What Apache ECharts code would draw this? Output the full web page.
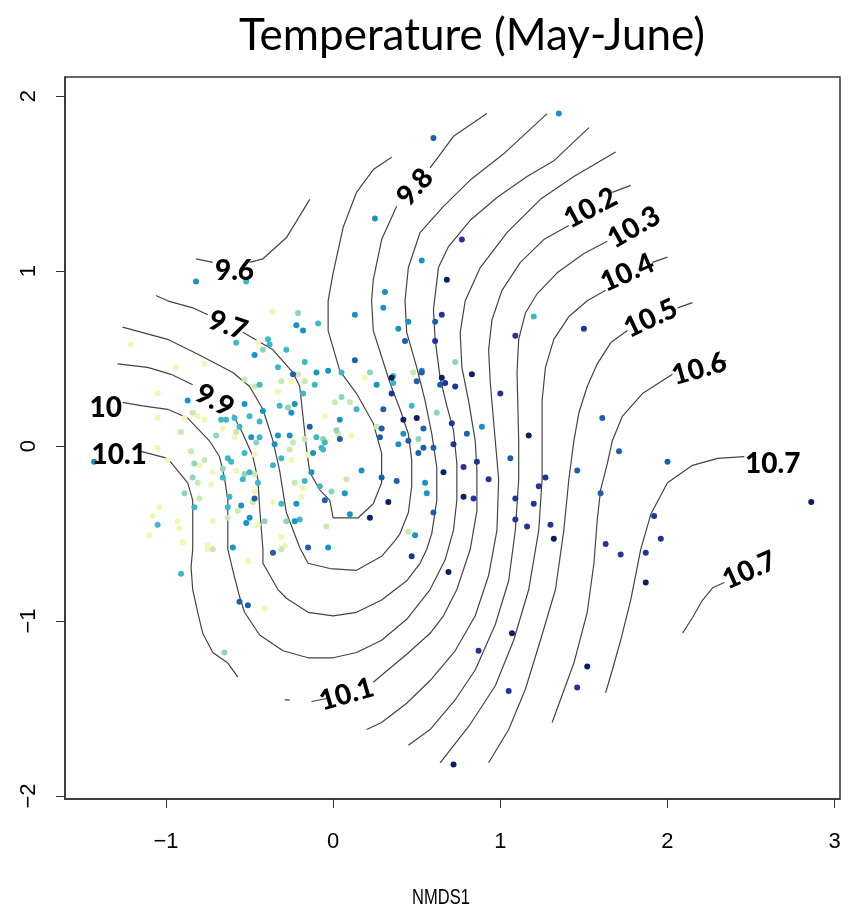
<!DOCTYPE html>
<html>
<head>
<meta charset="utf-8">
<script src="https://cdn.jsdelivr.net/npm/echarts@6/dist/echarts.min.js"></script>
<style>
  html, body { margin: 0; background: #fff; }
  #chart { width: 856px; height: 913px; }
</style>
</head>
<body>
<div id="chart"></div>
<script>
// axis ticks
const xTicks = [-1, 0, 1, 2, 3]
const yTicks = [-2, -1, 0, 1, 2]

// contour lines (NMDS1, NMDS2), each level split where the line breaks
const c96 = [
  [[-0.82, 1.07], [-0.72, 1.05]],
  [[-0.50, 1.05], [-0.42, 1.07], [-0.28, 1.19], [-0.14, 1.41]]
]
const c97 = [
  [[-1.06, 0.86], [-0.99, 0.83], [-0.84, 0.79], [-0.75, 0.75]],
  [[-0.54, 0.65], [-0.36, 0.55], [-0.24, 0.42], [-0.20, 0.34], [-0.16, -0.01], [-0.14, -0.15], [-0.08, -0.25],
   [-0.02, -0.31], [0.00, -0.41], [0.15, -0.41], [0.24, -0.33], [0.29, -0.21], [0.29, -0.04], [0.24, 0.13],
   [0.14, 0.30], [0.04, 0.43], [-0.03, 0.66], [-0.03, 0.83], [0.00, 0.99], [0.06, 1.25], [0.14, 1.45],
   [0.24, 1.58], [0.35, 1.65]]
]
const c98 = [
  [[-1.26, 0.68], [-0.99, 0.61], [-0.80, 0.52], [-0.60, 0.42], [-0.50, 0.34], [-0.42, 0.21], [-0.36, 0.03],
   [-0.32, -0.14], [-0.28, -0.38], [-0.20, -0.58], [-0.15, -0.67], [-0.02, -0.70], [0.14, -0.71], [0.29, -0.63],
   [0.37, -0.54], [0.40, -0.50], [0.45, -0.38], [0.47, -0.23], [0.47, -0.08], [0.45, 0.07], [0.40, 0.21],
   [0.34, 0.36], [0.29, 0.51], [0.24, 0.66], [0.23, 0.83], [0.24, 0.95], [0.29, 1.18], [0.38, 1.37]],
  [[0.58, 1.59], [0.72, 1.77], [0.92, 1.90]]
]
const c99 = [
  [[-1.29, 0.47], [-1.11, 0.45], [-0.97, 0.41], [-0.84, 0.35]],
  [[-0.60, 0.18], [-0.54, 0.07], [-0.48, -0.06], [-0.45, -0.19], [-0.44, -0.35], [-0.42, -0.59], [-0.42, -0.67],
   [-0.33, -0.82], [-0.28, -0.87], [-0.15, -0.95], [0.00, -0.97], [0.14, -0.95], [0.29, -0.88], [0.44, -0.77],
   [0.52, -0.67], [0.56, -0.59], [0.59, -0.50], [0.62, -0.31], [0.62, -0.12], [0.59, 0.07], [0.55, 0.26],
   [0.50, 0.45], [0.44, 0.65], [0.43, 0.83], [0.45, 1.02], [0.52, 1.22], [0.66, 1.37], [0.82, 1.52],
   [1.02, 1.67], [1.28, 1.90]]
]
const c100 = [
  [[-1.26, 0.25], [-1.14, 0.23], [-0.99, 0.21], [-0.87, 0.16], [-0.74, 0.03], [-0.68, -0.06], [-0.65, -0.18],
   [-0.63, -0.31], [-0.63, -0.59], [-0.60, -0.71], [-0.56, -0.86], [-0.53, -0.95], [-0.44, -1.08], [-0.30, -1.17],
   [-0.15, -1.21], [0.00, -1.21], [0.14, -1.18], [0.29, -1.11], [0.44, -0.99], [0.58, -0.82], [0.67, -0.65],
   [0.72, -0.48], [0.74, -0.31], [0.74, -0.10], [0.72, 0.09], [0.68, 0.23], [0.64, 0.39], [0.61, 0.61],
   [0.60, 0.78], [0.63, 1.02], [0.69, 1.14], [0.82, 1.29], [0.98, 1.42], [1.16, 1.54], [1.32, 1.63], [1.53, 1.82]]
]
const c101 = [
  [[-1.15, -0.03], [-0.99, -0.07], [-0.87, -0.21], [-0.84, -0.31], [-0.84, -0.59], [-0.85, -0.69], [-0.84, -0.82],
   [-0.81, -0.95], [-0.78, -1.07], [-0.72, -1.18], [-0.63, -1.24], [-0.57, -1.32]],
  [[-0.29, -1.45], [-0.26, -1.45]],
  [[-0.13, -1.46], [-0.02, -1.44]],
  [[0.24, -1.35], [0.44, -1.19], [0.58, -1.07], [0.66, -0.97], [0.74, -0.82], [0.82, -0.59], [0.86, -0.37],
   [0.86, -0.14], [0.85, 0.03], [0.81, 0.26], [0.77, 0.45], [0.76, 0.65], [0.79, 0.83], [0.88, 1.02],
   [1.04, 1.22], [1.24, 1.41], [1.44, 1.54], [1.69, 1.68]]
]
const c102 = [
  [[0.20, -1.62], [0.29, -1.58], [0.44, -1.47], [0.58, -1.34], [0.73, -1.17], [0.85, -0.97], [0.93, -0.74],
   [0.98, -0.48], [0.99, -0.19], [0.97, 0.03], [0.94, 0.36], [0.93, 0.55], [0.95, 0.72], [1.01, 0.89],
   [1.12, 1.05], [1.26, 1.18], [1.41, 1.26]],
  [[1.67, 1.45], [1.78, 1.49]]
]
const c103 = [
  [[0.45, -1.71], [0.58, -1.62], [0.73, -1.45], [0.85, -1.28], [0.97, -1.02], [1.05, -0.77], [1.09, -0.48],
   [1.11, -0.19], [1.11, 0.03], [1.10, 0.42], [1.11, 0.61], [1.15, 0.76], [1.22, 0.87], [1.34, 0.99],
   [1.50, 1.10], [1.64, 1.17]]
]
const c104 = [
  [[0.64, -1.81], [0.82, -1.59], [0.97, -1.37], [1.08, -1.11], [1.17, -0.82], [1.23, -0.48], [1.25, -0.19],
   [1.25, 0.03], [1.25, 0.26], [1.27, 0.45], [1.32, 0.61], [1.41, 0.74], [1.52, 0.83], [1.63, 0.89]],
  [[1.91, 1.05], [2.00, 1.08]]
]
const c105 = [
  [[0.93, -1.81], [1.05, -1.62], [1.15, -1.39], [1.24, -1.11], [1.33, -0.82], [1.38, -0.48], [1.41, -0.19],
   [1.44, 0.03], [1.47, 0.19], [1.52, 0.34], [1.58, 0.47], [1.66, 0.59], [1.76, 0.66]],
  [[2.06, 0.79], [2.15, 0.82]]
]
const c106 = [
  [[1.31, -1.58], [1.44, -1.24], [1.52, -0.95], [1.56, -0.67], [1.58, -0.42], [1.60, -0.25], [1.64, -0.10],
   [1.67, 0.03], [1.73, 0.17], [1.85, 0.30], [2.03, 0.41]],
  [[2.27, 0.47], [2.35, 0.49]]
]
const c107 = [
  [[1.63, -1.41], [1.67, -1.28], [1.72, -1.11], [1.78, -0.88], [1.84, -0.59], [1.90, -0.39], [2.00, -0.21],
   [2.15, -0.11], [2.30, -0.07], [2.46, -0.06]],
  [[2.09, -1.07], [2.15, -0.98], [2.21, -0.88], [2.27, -0.81], [2.34, -0.78]]
]
const contours = [c96, c97, c98, c99, c100, c101, c102, c103, c104, c105, c106, c107]

// contour labels
const labelText = ['9.6', '9.7', '9.8', '9.9', '10', '10.1', '10.1', '10.2', '10.3', '10.4', '10.5', '10.6', '10.7', '10.7']
const labelX = [-0.59, -0.63, 0.49, -0.71, -1.36, -1.28, 0.08, 1.54, 1.80, 1.76, 1.90, 2.19, 2.63, 2.49]
const labelY = [1.00, 0.69, 1.48, 0.26, 0.22, -0.05, -1.42, 1.36, 1.25, 0.99, 0.73, 0.44, -0.10, -0.71]
const labelRot = [0, -19, 48, -29, 0, 0, 16, 28, 30, 24, 25, 16, 0, 24]

// sites, grouped by colour class (pale yellow -> navy)
const ptsK0 = [
  [0.19, 0.39], [0.11, 0.06], [-0.05, 0.17], [-0.04, 0.03], [-0.90, -0.55], [-0.75, -0.57], [-0.75, -0.59],
  [-0.51, -0.66], [-0.29, -0.57], [-0.41, -0.93], [-0.36, 0.77], [-1.21, 0.58], [-0.45, 0.59], [-0.77, 0.47],
  [-0.94, 0.45], [-0.25, 0.37], [-0.33, 0.31], [-1.05, 0.30], [-0.81, 0.17], [-0.77, 0.15], [-0.89, 0.16],
  [-1.05, 0.16], [-0.66, 0.10], [-0.59, 0.05], [-1.05, -0.01], [-0.47, -0.05], [-0.99, -0.08], [-0.80, -0.11],
  [-0.25, -0.08], [-0.15, -0.05], [-0.58, -0.14], [-0.72, -0.15], [-0.73, -0.22], [-0.47, -0.26], [-0.19, -0.29],
  [-0.36, -0.32], [-1.04, -0.35], [-1.08, -0.40], [-0.93, -0.43], [-0.92, -0.47], [-0.72, -0.43], [-0.45, -0.45],
  [-0.18, -0.24], [-1.10, -0.51], [-0.31, -0.52]
]
const ptsK1 = [
  [0.48, 0.42], [0.01, 0.25], [0.10, 0.25], [0.26, 0.11], [0.03, 0.07], [0.08, -0.19], [-0.04, -0.46],
  [0.45, -0.49], [-0.72, -0.59], [-0.31, -0.59], [-0.21, 0.41], [-0.53, 0.38], [-0.47, 0.34], [-0.31, 0.37],
  [-0.17, 0.37], [-0.84, 0.19], [-0.91, 0.08], [-0.58, 0.08], [-0.24, 0.02], [-0.17, 0.04], [-0.85, -0.03],
  [-0.26, -0.02], [-0.77, -0.08], [-0.47, -0.16], [-0.81, -0.21], [-0.23, -0.21], [-0.48, -0.32], [-0.80, -0.30],
  [-0.63, -0.41], [-0.57, -0.37]
]
const ptsK2 = [
  [0.73, 0.48], [0.22, 0.42], [0.05, 0.28], [0.62, 0.19], [0.02, 0.09], [-0.06, 0.04], [0.51, 0.04],
  [-0.01, -0.26], [-0.65, -1.18], [-0.21, 0.76], [-0.42, 0.55], [-0.27, 0.22], [-0.70, 0.06], [-0.46, 0.02],
  [-0.83, -0.10], [-0.66, -0.13], [-0.53, -0.16], [-0.84, -0.18], [-0.89, -0.27], [-0.41, -0.43], [-0.28, -0.43]
]
const ptsK3 = [
  [-0.52, 0.94], [1.20, 0.74], [0.05, 0.42], [0.36, 0.40], [0.36, 0.36], [0.14, 0.21], [0.47, 0.23],
  [-0.05, 0.02], [-0.07, -0.01], [-0.06, -0.02], [-0.91, -0.73], [-0.09, 0.70], [-0.58, 0.59], [-0.39, 0.61],
  [-0.38, 0.58], [-0.28, 0.55], [-0.17, 0.48], [-0.33, 0.45], [-0.44, 0.35], [-0.11, 0.35], [-0.18, 0.30],
  [-0.32, 0.23], [-0.67, 0.15], [-0.64, 0.15], [-0.59, 0.16], [-0.50, 0.17], [-0.44, 0.14], [-0.56, 0.11],
  [-0.44, 0.05], [-0.10, 0.05], [-0.53, -0.04], [-0.63, -0.07], [-0.61, -0.09], [-0.36, -0.11], [-0.31, -0.07],
  [-0.54, -0.19], [-0.50, -0.15], [-0.45, -0.21], [-0.17, -0.20], [-0.08, -0.23], [-0.66, -0.18], [-0.62, -0.29],
  [-0.31, -0.33], [-0.63, -0.35], [-1.05, -0.45], [-0.83, -0.35], [-0.20, -0.42]
]
const ptsK4 = [
  [-0.82, 0.94], [1.35, 1.90], [0.25, 1.30], [0.53, 1.06], [0.31, 0.88], [0.13, 0.75], [0.30, 0.79],
  [0.45, 0.71], [0.39, 0.67], [-0.03, 0.43], [0.26, 0.35], [0.53, 0.43], [0.04, 0.15], [0.89, 0.11],
  [0.42, 0.07], [0.39, 0.01], [0.17, -0.14], [0.55, -0.21], [0.07, -0.27], [0.56, -0.27], [0.10, -0.39],
  [0.49, -0.51], [-0.03, -0.58], [-0.60, -0.58], [-0.22, 0.69], [-0.18, 0.66], [-0.47, 0.52], [-0.10, 0.42],
  [-0.87, 0.26], [-0.53, 0.24], [-0.23, 0.24], [-0.25, 0.19], [-0.42, 0.20], [-0.49, 0.05], [-0.33, 0.06],
  [-0.26, 0.06], [-0.35, 0.01], [-0.12, -0.04], [-1.43, -0.09], [-0.13, -0.15], [-0.22, -0.33], [-0.55, -0.34],
  [-0.50, -0.41], [-0.52, -0.44], [-0.23, -0.43]
]
const ptsK5 = [
  [0.60, 1.76], [0.61, 0.71], [0.43, 0.60], [0.13, 0.49], [0.53, 0.42], [0.50, 0.37], [0.64, 0.35],
  [0.30, 0.21], [0.29, 0.10], [0.54, 0.10], [0.04, 0.04], [0.28, 0.05], [0.45, 0.03], [0.54, -0.01],
  [0.60, -0.01], [0.51, -0.04], [0.80, 0.07], [1.06, -0.07], [0.29, -0.18], [0.38, -0.20], [-0.05, -0.31],
  [1.46, -0.14], [0.60, -0.38], [1.61, 0.16], [1.71, -0.03], [2.00, -0.09], [1.60, -0.27], [-0.36, -0.61],
  [-0.15, -0.58], [-0.56, -0.89], [-0.51, -0.91], [-0.24, 0.41], [-0.14, 0.11], [-0.47, -0.30]
]
const ptsK6 = [
  [0.77, 1.18], [0.65, 0.75], [0.61, 0.60], [1.09, 0.63], [1.50, 0.67], [0.67, 0.36], [0.73, 0.34],
  [0.35, 0.30], [1.00, 0.30], [0.71, 0.13], [0.72, 0.01], [0.86, -0.09], [0.78, -0.12], [0.93, -0.19],
  [0.84, -0.30], [1.27, -0.18], [1.23, -0.23], [1.09, -0.30], [1.20, -0.33], [1.09, -0.42], [1.16, -0.46],
  [1.30, -0.45], [1.92, -0.40], [1.96, -0.53], [1.63, -0.56], [1.72, -0.62], [1.87, -0.61], [0.47, -0.63],
  [0.87, -1.17], [1.05, -1.40], [1.46, -1.38]
]
const ptsK7 = [
  [0.68, 0.95], [0.35, 0.39], [0.65, 0.39], [0.83, 0.41], [0.42, 0.15], [0.50, 0.16], [1.17, 0.06],
  [0.66, -0.15], [0.33, -0.32], [0.78, -0.29], [0.22, -0.41], [1.32, -0.53], [2.86, -0.32], [1.87, -0.78],
  [0.69, -0.72], [1.07, -1.07], [0.72, -1.82], [1.52, -1.26]
]
const ptGroups = [ptsK0, ptsK1, ptsK2, ptsK3, ptsK4, ptsK5, ptsK6, ptsK7]
const ptColors = ['#eef8b6', '#c7e9b4', '#8fd4bb', '#41b6c4', '#1d91c0', '#225ea8', '#253494', '#0c1f63']

const chart = echarts.init(document.getElementById('chart'))

const series = []
contours.forEach((pieces) => {
  pieces.forEach((p) => {
    series.push({
      type: 'line',
      data: p,
      showSymbol: false,
      silent: true,
      lineStyle: { color: '#444', width: 1.2 },
      z: 2,
    })
  })
})
ptGroups.forEach((g, i) => {
  series.push({
    type: 'scatter',
    data: g,
    symbolSize: 6,
    itemStyle: { color: ptColors[i], opacity: 1 },
    z: 3,
  })
})

// contour labels: black bold text laid along the lines
const labelStyle = {
  show: true,
  position: 'inside',
  color: '#000',
  opacity: 1,
  textBorderWidth: 0,
  fontFamily: 'Lato',
  fontWeight: 900,
  fontSize: 28,
}
series.push({
  type: 'scatter',
  symbolSize: 1,
  z: 4,
  itemStyle: { color: 'rgba(0,0,0,0)' },
  data: labelText.map((t, i) => ({
    value: [labelX[i], labelY[i]],
    label: { ...labelStyle, formatter: t, rotate: labelRot[i] },
  })),
  label: labelStyle,
})

const tickFont = { color: '#000', fontFamily: 'Liberation Sans', fontSize: 22 }
const fmt = (v) => (v < 0 ? '\u2212' + Math.abs(v) : String(v))

chart.setOption({
  animation: false,
  grid: { left: 65, right: 16, top: 77, bottom: 114, show: true, borderColor: '#333', borderWidth: 1.5 },
  graphic: [
    { type: 'text', x: 472, y: 36, style: { text: 'Temperature (May-June)', font: '44px Lato', fill: '#000', align: 'center', verticalAlign: 'middle' } },
    { type: 'text', x: 441, y: 898, scaleX: 0.75, style: { text: 'NMDS1', font: '22px "Liberation Sans"', fill: '#000', align: 'center', verticalAlign: 'middle' } },
  ],
  xAxis: {
    type: 'value',
    min: -1.604,
    max: 3.032,
    splitLine: { show: false },
    axisLine: { show: true, onZero: false, lineStyle: { color: '#333', width: 1.5 } },
    axisTick: { show: true, length: 9, customValues: xTicks, lineStyle: { color: '#333' } },
    axisLabel: { ...tickFont, margin: 32, customValues: xTicks, formatter: fmt },
  },
  yAxis: {
    type: 'value',
    min: -2.017,
    max: 2.109,
    splitLine: { show: false },
    axisLine: { show: true, onZero: false, lineStyle: { color: '#333', width: 1.5 } },
    axisTick: { show: true, length: 9, customValues: yTicks, lineStyle: { color: '#333' } },
    axisLabel: { ...tickFont, margin: 25, rotate: 90, customValues: yTicks, formatter: fmt },
  },
  series,
})
</script>
</body>
</html>
